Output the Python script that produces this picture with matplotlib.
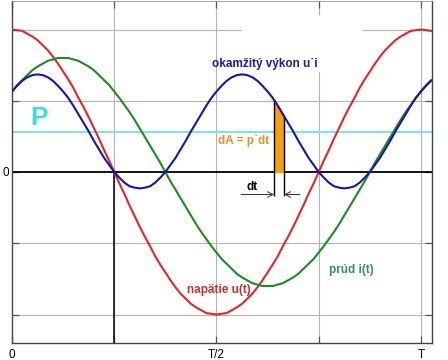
import numpy as np
import matplotlib
matplotlib.use("Agg")
import matplotlib.pyplot as plt

# ── Data (one sample every T/80) ──
u_t = [2.00, 1.99, 1.98, 1.94, 1.90, 1.85, 1.78, 1.71, 1.62, 1.52, 1.41,
       1.30, 1.18, 1.04, 0.91, 0.77, 0.62, 0.47, 0.31, 0.16, 0.00,
       -0.16, -0.31, -0.47, -0.62, -0.77, -0.91, -1.04, -1.18, -1.30, -1.41,
       -1.52, -1.62, -1.71, -1.78, -1.85, -1.90, -1.94, -1.98, -1.99, -2.00,
       -1.99, -1.98, -1.94, -1.90, -1.85, -1.78, -1.71, -1.62, -1.52, -1.41,
       -1.30, -1.18, -1.04, -0.91, -0.77, -0.62, -0.47, -0.31, -0.16, 0.00,
       0.16, 0.31, 0.47, 0.62, 0.77, 0.91, 1.04, 1.18, 1.30, 1.41,
       1.52, 1.62, 1.71, 1.78, 1.85, 1.90, 1.94, 1.98, 1.99, 2.00,
       1.99, 1.98]
i_t = [1.13, 1.22, 1.29, 1.36, 1.43, 1.48, 1.52, 1.56, 1.58, 1.60, 1.60,
       1.60, 1.58, 1.56, 1.52, 1.48, 1.43, 1.36, 1.29, 1.22, 1.13,
       1.04, 0.94, 0.84, 0.73, 0.61, 0.49, 0.37, 0.25, 0.13, 0.00,
       -0.13, -0.25, -0.37, -0.49, -0.61, -0.73, -0.84, -0.94, -1.04, -1.13,
       -1.22, -1.29, -1.36, -1.43, -1.48, -1.52, -1.56, -1.58, -1.60, -1.60,
       -1.60, -1.58, -1.56, -1.52, -1.48, -1.43, -1.36, -1.29, -1.22, -1.13,
       -1.04, -0.94, -0.84, -0.73, -0.61, -0.49, -0.37, -0.25, -0.13, 0.00,
       0.13, 0.25, 0.37, 0.49, 0.61, 0.73, 0.84, 0.94, 1.04, 1.13,
       1.22, 1.29]
p_t = [1.13, 1.21, 1.28, 1.33, 1.36, 1.37, 1.36, 1.33, 1.28, 1.21, 1.13,
       1.04, 0.93, 0.81, 0.69, 0.57, 0.44, 0.32, 0.20, 0.10, 0.00,
       -0.08, -0.15, -0.20, -0.22, -0.23, -0.22, -0.20, -0.15, -0.08, 0.00,
       0.10, 0.20, 0.32, 0.44, 0.57, 0.69, 0.81, 0.93, 1.04, 1.13,
       1.21, 1.28, 1.33, 1.36, 1.37, 1.36, 1.33, 1.28, 1.21, 1.13,
       1.04, 0.93, 0.81, 0.69, 0.57, 0.44, 0.32, 0.20, 0.10, 0.00,
       -0.08, -0.15, -0.20, -0.22, -0.23, -0.22, -0.20, -0.15, -0.08, 0.00,
       0.10, 0.20, 0.32, 0.44, 0.57, 0.69, 0.81, 0.93, 1.04, 1.13,
       1.21, 1.28]
t = np.arange(len(u_t)) / 80.0

P_mean = 0.566                 # average power
dt_t = [0.641, 0.665]          # strip dA = p*dt
dt_p = [1.01, 0.79]

xtick_pos = [0, 0.25, 0.5, 0.75, 1.0]
xtick_lab = ["0", "", "T/2", "", "T"]
ytick_pos = [-2, -1, 0, 1, 2]
ytick_lab = ["", "", "0", "", ""]

# ── Colours ──
C_U = "#e02828"
C_I = "#1f8a1f"
C_P = "#1616a8"
C_MEAN = "#78e6e8"
C_GRID = "#b4b4b4"

plt.rcParams["font.family"] = ["Liberation Sans", "DejaVu Sans"]

fig = plt.figure(figsize=(4.48, 3.6), dpi=100)
ax = fig.add_axes([12 / 448, 17 / 360, 420 / 448, 342 / 360])
ax.set_xlim(0, 1.027)
ax.set_ylim(-2.4, 2.4)

# grid (drawn by hand, the +2 line has a gap in the original)
for x in [0.25, 0.5, 1.0]:
    ax.vlines(x, -2.4, 2.4, color=C_GRID, lw=0.8, zorder=1)
ax.vlines(0.75, -2.4, 1.4, color=C_GRID, lw=0.8, zorder=1)
ax.vlines(0.75, 2.2, 2.4, color=C_GRID, lw=0.8, zorder=1)
for y in [-2, -1, 1]:
    ax.hlines(y, 0, 1.027, color=C_GRID, lw=0.8, zorder=1)
ax.hlines(2, 0, 0.56, color=C_GRID, lw=0.8, zorder=1)
ax.hlines(2, 0.855, 1.027, color=C_GRID, lw=0.8, zorder=1)

ax.axhline(0, color="black", lw=1.3, zorder=2)
ax.vlines(0.25, -2.4, 0, color="black", lw=1.1, zorder=2)
ax.axhline(P_mean, color=C_MEAN, lw=1.4, zorder=2)

# dA strip
ax.fill_between(dt_t, [0, 0], dt_p, color="#f5a010", zorder=3)
ax.plot(dt_t, dt_p, color="black", lw=0.8, zorder=3)
ax.vlines(dt_t[0], -0.34, dt_p[0], color="black", lw=1.0, zorder=4)
ax.vlines(dt_t[1], -0.34, dt_p[1], color="black", lw=1.0, zorder=4)
ax.annotate("", xy=(dt_t[0], -0.316), xytext=(0.56, -0.316),
            arrowprops=dict(arrowstyle="->", lw=0.7, color="#333333",
                            shrinkA=0, shrinkB=0), zorder=4)
ax.annotate("", xy=(dt_t[1], -0.316), xytext=(0.704, -0.316),
            arrowprops=dict(arrowstyle="->", lw=0.7, color="#333333",
                            shrinkA=0, shrinkB=0), zorder=4)

# curves
ax.plot(t, u_t, color=C_U, lw=1.5, zorder=5)
ax.plot(t, i_t, color=C_I, lw=1.5, zorder=5)
ax.plot(t, p_t, color=C_P, lw=1.5, zorder=6)

# labels
ax.text(0.066, 0.76, "P", color="#3adede", fontsize=19, fontweight="bold",
        ha="center", va="center")
ax.text(0.489, 1.52, "okamžitý výkon u˙i", color="#1c1ca0", fontsize=8.5,
        fontweight="bold", ha="left", va="center")
ax.text(0.504, 0.44, "dA = p˙dt", color="#e8922a", fontsize=8.5,
        fontweight="bold", ha="left", va="center")
ax.text(0.428, -1.66, "napätie u(t)", color="#c83030", fontsize=8.5,
        fontweight="bold", ha="left", va="center")
ax.text(0.775, -1.37, "prúd i(t)", color="#3a8a70", fontsize=8.5,
        fontweight="bold", ha="left", va="center")
ax.text(0.587, -0.21, "dt", color="black", fontsize=8.5, fontweight="bold",
        ha="center", va="center")

# ticks and frame
ax.set_xticks(xtick_pos)
ax.set_xticklabels(xtick_lab)
ax.set_yticks(ytick_pos)
ax.set_yticklabels(ytick_lab)
ax.tick_params(direction="in", length=5, width=0.9, color="#555555",
               labelsize=8.5, top=True, right=True, pad=4)
ax.tick_params(axis="y", pad=2)
for side in ["left", "bottom", "right"]:
    ax.spines[side].set_color("#444444")
    ax.spines[side].set_linewidth(1.0)
ax.spines["top"].set_color("#999999")
ax.spines["top"].set_linewidth(0.6)

fig.savefig("out.png", dpi=100)
